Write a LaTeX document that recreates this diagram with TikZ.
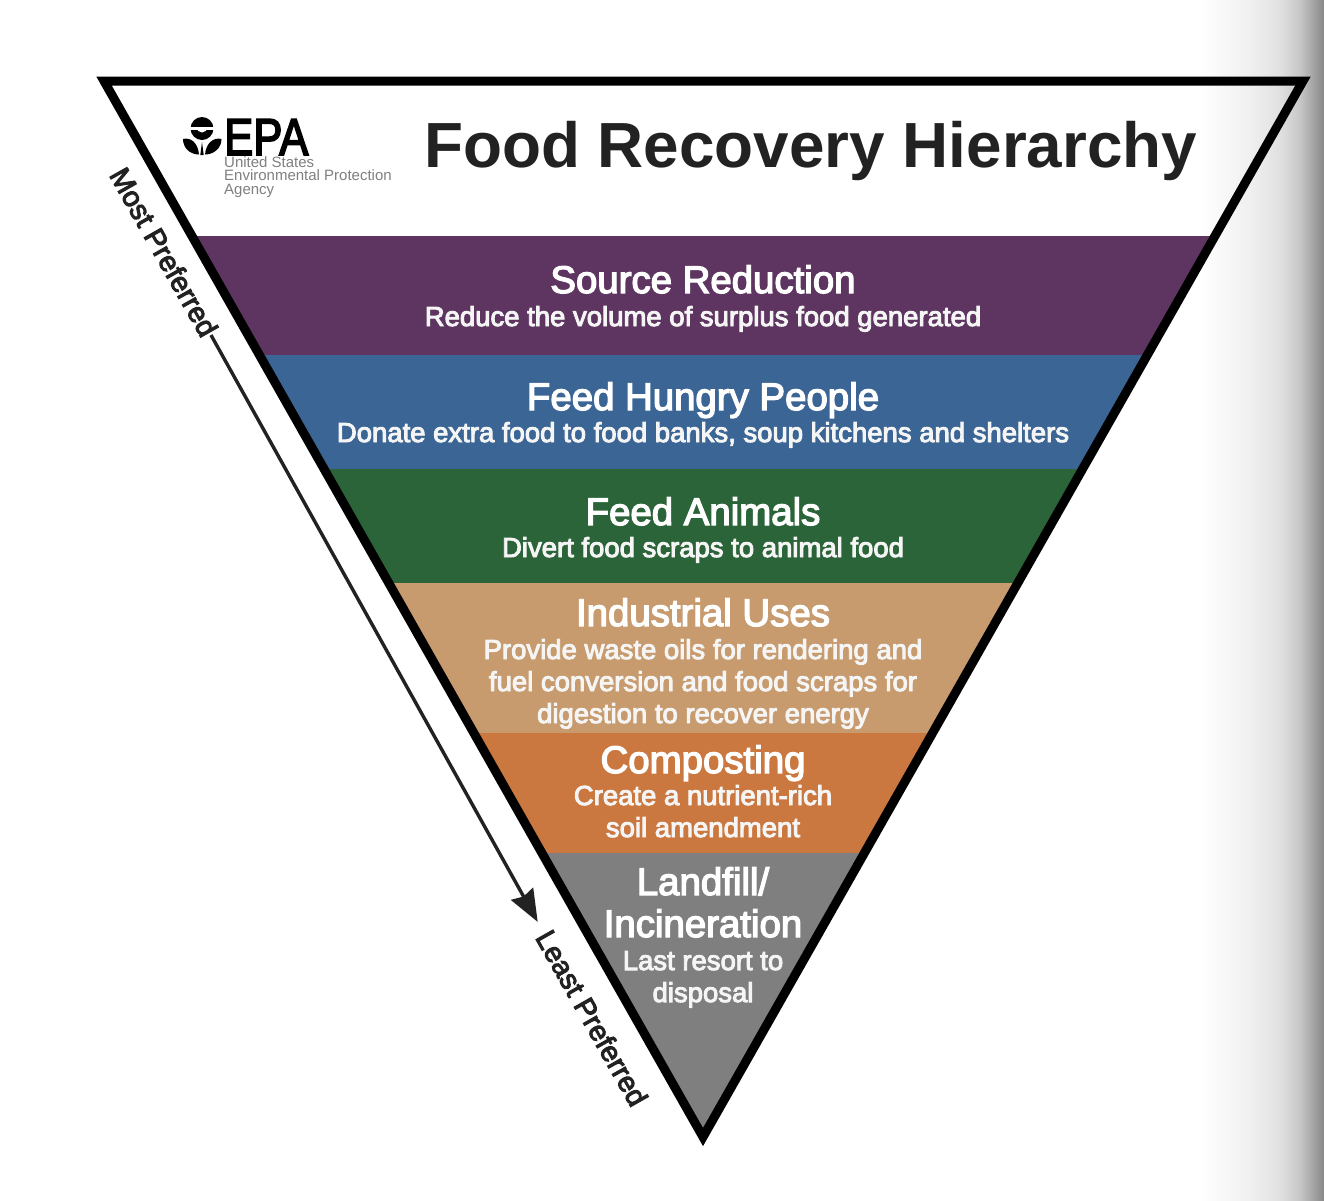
\documentclass[tikz,border=0pt]{standalone}
\usepackage{fontspec}
\setmainfont{Liberation Sans}
\newfontfamily\medfont[FakeBold=3.5]{Liberation Sans}
\usetikzlibrary{arrows.meta}
\pgfdeclarehorizontalshading{edgeshade}{100bp}{
  color(0bp)=(white); color(47.3bp)=(white); color(58.5bp)=(black!6); color(65.2bp)=(black!12);
  color(69.6bp)=(black!22); color(75bp)=(black!47); color(100bp)=(black!47)}
\definecolor{cpurple}{HTML}{5E3560}
\definecolor{cblue}{HTML}{3A6594}
\definecolor{cgreen}{HTML}{2C6439}
\definecolor{ctan}{HTML}{C79B6E}
\definecolor{corange}{HTML}{CB7840}
\definecolor{cgray}{HTML}{7F7F7F}
\definecolor{ink}{HTML}{222222}
\tikzset{
  head/.style={text=white,anchor=base,inner sep=0pt,font=\medfont\fontsize{38.4}{38.4}\selectfont},
  sub/.style={text=white!96!black,anchor=base,inner sep=0pt,font=\medfont\fontsize{27.5}{32}\selectfont,align=center},
  band/.style={draw=none},
  side/.style={text=ink,inner sep=1pt,rotate=-60.5,font=\medfont\fontsize{28.5}{28.5}\selectfont},
}
\begin{document}
\begin{tikzpicture}[x=1pt,y=-1pt]
\useasboundingbox (0,0) rectangle (1324,1200);
\fill[white] (0,0) rectangle (1324,1200);
\shade[shading=edgeshade] (1100,0) rectangle (1324,1200);
\begin{scope}
\clip (104,81) -- (1303,81) -- (703,1137) -- cycle;
\fill[cpurple,band] (0,236) rectangle (1324,355);
\fill[cblue,band] (0,355) rectangle (1324,469);
\fill[cgreen,band] (0,469) rectangle (1324,583);
\fill[ctan,band] (0,583) rectangle (1324,733);
\fill[corange,band] (0,733) rectangle (1324,853);
\fill[cgray,band] (0,853) rectangle (1324,1200);
\end{scope}
\draw[black,line width=9pt,miter limit=10] (104,81) -- (1303,81) -- (703,1137) -- cycle;
% logo
\begin{scope}[black]
\fill (202,128.5) circle[radius=11.5];
\fill[white] (196.5,127) arc[start angle=180,end angle=0,radius=5.5] -- cycle;
\fill[white] (189,127) rectangle (215,129.5);
\fill (183,139) .. controls (191,137) and (198,143) .. (199,154.5) .. controls (190,154.5) and (183,148) .. (183,139) -- cycle;
\fill (221.5,139) .. controls (213.5,137) and (206,143) .. (205,154.5) .. controls (214,154.5) and (221.5,148) .. (221.5,139) -- cycle;
\fill (202,142) -- (200.3,155) -- (203.7,155) -- cycle;
\end{scope}
\node[inner sep=0pt,anchor=base west] (epa) at (224,155) {\scalebox{0.84}[1]{\medfont\fontsize{52}{52}\selectfont EPA}};
\node[inner sep=0pt,anchor=base west,text=black!50,align=left,font=\fontsize{15}{13.5}\selectfont] (agency) at (224,194) {United States\\Environmental Protection\\Agency};
\node[inner sep=0pt,anchor=base west,text=ink,font=\bfseries\fontsize{63.8}{63.8}\selectfont] (title) at (424,167) {Food Recovery Hierarchy};
% bands
\node[head] (h1) at (703,293) {Source Reduction};
\node[sub] (s1) at (703,326) {Reduce the volume of surplus food generated};
\node[head] (h2) at (703,410) {Feed Hungry People};
\node[sub] (s2) at (703,442) {Donate extra food to food banks, soup kitchens and shelters};
\node[head] (h3) at (703,525) {Feed Animals};
\node[sub] (s3) at (703,557) {Divert food scraps to animal food};
\node[head] (h4) at (703,626) {Industrial Uses};
\node[sub] (s4) at (703,723) {Provide waste oils for rendering and\\fuel conversion and food scraps for\\digestion to recover energy};
\node[head] (h5) at (703,773) {Composting};
\node[sub] (s5) at (703,837) {Create a nutrient-rich\\soil amendment};
\node[head] (h6) at (703,895) {Landfill/};
\node[head] (h7) at (703,937) {Incineration};
\node[sub] (s6) at (703,1002) {Last resort to\\disposal};
% side labels
\node[side] (most) at (164,252) {Most Preferred};
\node[side] (least) at (592,1018) {Least Preferred};
\draw[ink,line width=3.4pt,shorten >=11pt,-{Stealth[length=32pt,width=25pt,inset=3pt]}] (most.east) -- (least.west);
\end{tikzpicture}
\end{document}
